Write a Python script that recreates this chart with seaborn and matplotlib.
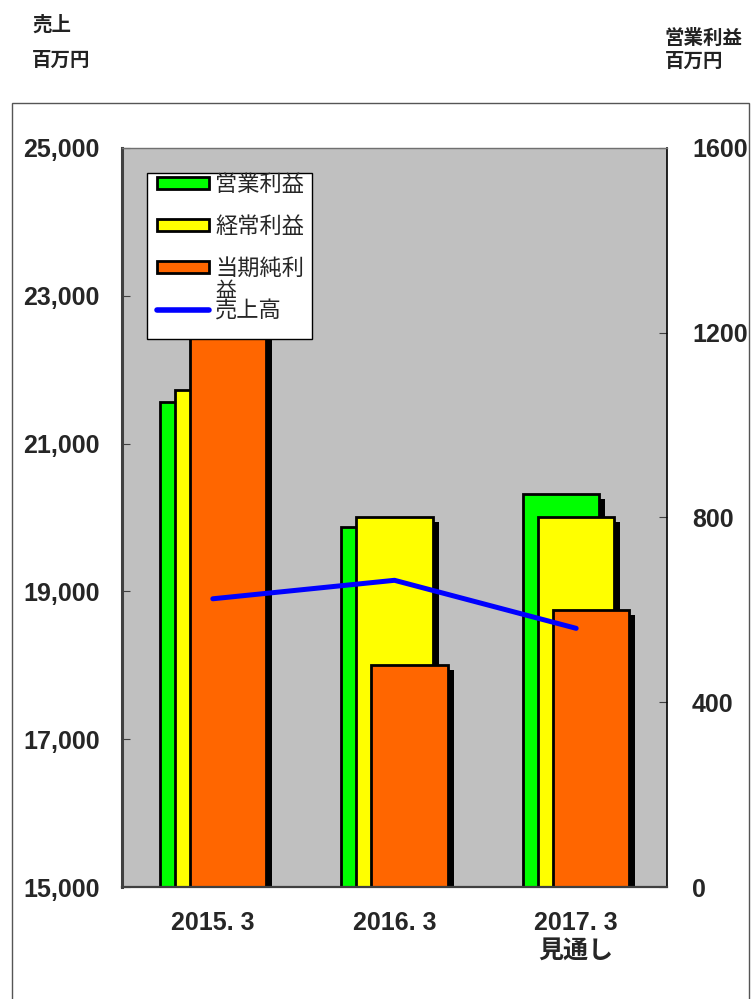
import matplotlib
matplotlib.use("Agg")
import matplotlib.pyplot as plt
import matplotlib.patheffects as pe
from matplotlib.patches import Patch, Rectangle
from matplotlib.lines import Line2D
from matplotlib.ticker import StrMethodFormatter
import seaborn as sns
import numpy as np

# данные графика
categories = ['2015. 3', '2016. 3', '2017. 3\n見通し']
sales = [18900, 19150, 18500]          # 売上高 (левая ось)
operating = [1050, 780, 850]           # 営業利益
ordinary = [1075, 800, 800]            # 経常利益
net_income = [1300, 480, 600]          # 当期純利益
series_names = ['営業利益', '経常利益', '当期純利', '売上高']
bar_colors = ['#00FF00', '#FFFF00', '#FF6600']

sns.set_style('white')
plt.rcParams['font.family'] = ['Liberation Sans', 'Noto Sans CJK JP', 'DejaVu Sans']

fig = plt.figure(figsize=(7.53, 9.99), dpi=100)
fig.subplots_adjust(left=0.162, right=0.8858, bottom=0.1121, top=0.8519)
ax = fig.add_subplot(111)
ax.set_facecolor('#C0C0C0')
ax2 = ax.twinx()

centers = np.arange(len(categories))
offsets = [-0.083, 0.0, 0.083]
shadow = [pe.SimplePatchShadow(offset=(4.3, -3.6), shadow_rgbFace='black', alpha=1.0), pe.Normal()]

for vals, col, off in zip([operating, ordinary, net_income], bar_colors, offsets):
    n0 = len(ax.patches)
    sns.barplot(x=centers + off, y=vals, native_scale=True, width=0.42, color=col,
                saturation=1, edgecolor='black', linewidth=2, errorbar=None, ax=ax)
    for p in ax.patches[n0:]:
        p.set_path_effects(shadow)

sns.lineplot(x=centers, y=sales, color='#0000FF', linewidth=3.6, ax=ax2)
ax2.lines[0].set_solid_capstyle('round')

# оси
ax.set_xlim(-0.5, 2.5)
ax.set_ylim(0, 1600)
ax.set_yticks([0, 400, 800, 1200, 1600])
ax.yaxis.tick_right()
ax.yaxis.set_label_position('right')
ax2.set_ylim(15000, 25000)
ax2.set_yticks(np.arange(15000, 25001, 2000))
ax2.yaxis.set_major_formatter(StrMethodFormatter('{x:,.0f}'))
ax2.yaxis.tick_left()
ax.set_ylabel('')
ax2.set_ylabel('')

ax.set_xticks(centers)
ax.set_xticklabels(categories)
ax.set_xticks([0.5, 1.5], minor=True)
ax.tick_params(axis='x', which='major', length=0, pad=17, labelsize=18)
ax.tick_params(axis='x', which='minor', direction='in', length=6, color='#404040')
ax.tick_params(axis='y', direction='in', length=6, pad=18, labelsize=18, color='#404040',
               right=True, labelright=True, left=False, labelleft=False)
ax2.tick_params(axis='y', direction='in', length=6, pad=16, labelsize=18, color='#404040',
                left=True, labelleft=True, right=False, labelright=False)
for t in ax.get_xticklabels() + ax.get_yticklabels() + ax2.get_yticklabels():
    t.set_fontweight('bold')

for s in ax.spines.values():
    s.set_visible(False)
ax2.spines['left'].set_color('#404040')
ax2.spines['left'].set_linewidth(2.2)
ax2.spines['right'].set_color('black')
ax2.spines['right'].set_linewidth(1.2)
ax2.spines['top'].set_color('#707070')
ax2.spines['top'].set_linewidth(1)
ax2.spines['bottom'].set_color('#404040')
ax2.spines['bottom'].set_linewidth(1.6)

# легенда
ax2.add_patch(Rectangle((0.0459, 0.7416), 0.3027, 0.2246, transform=ax2.transAxes,
                        facecolor='white', edgecolor='black', linewidth=1, zorder=4.5))
handles = [Patch(facecolor=c, edgecolor='black', linewidth=2) for c in bar_colors]
handles.append(Line2D([], [], color='#0000FF', linewidth=4, solid_capstyle='round'))
leg = ax2.legend(handles, series_names, loc='upper left', bbox_to_anchor=(0.0642, 0.9635),
                 frameon=False, fontsize=16, handlelength=2.35, handleheight=0.42,
                 handletextpad=0.28, labelspacing=0.95, borderpad=0, borderaxespad=0)
leg.set_zorder(5)
ax2.annotate('益', xy=(0, 0.5), xycoords=leg.get_texts()[2], xytext=(0, -16),
             textcoords='offset points', ha='left', va='center', fontsize=15, zorder=6)

# подписи сверху и рамка
fig.text(32 / 753, 0.975, '売上', fontsize=14, fontweight='bold', va='center', color='#222222')
fig.text(32 / 753, 0.939, '百万円', fontsize=14, fontweight='bold', va='center', color='#222222')
fig.text(665 / 753, 0.962, '営業利益', fontsize=14, fontweight='bold', va='center', color='#222222')
fig.text(665 / 753, 0.938, '百万円', fontsize=14, fontweight='bold', va='center', color='#222222')
fig.add_artist(Rectangle((12 / 753, -0.05), 737 / 753, 0.05 + 1 - 103 / 999,
                         transform=fig.transFigure, facecolor='none', edgecolor='#555555', linewidth=1))

fig.savefig('out.png', dpi=100)
